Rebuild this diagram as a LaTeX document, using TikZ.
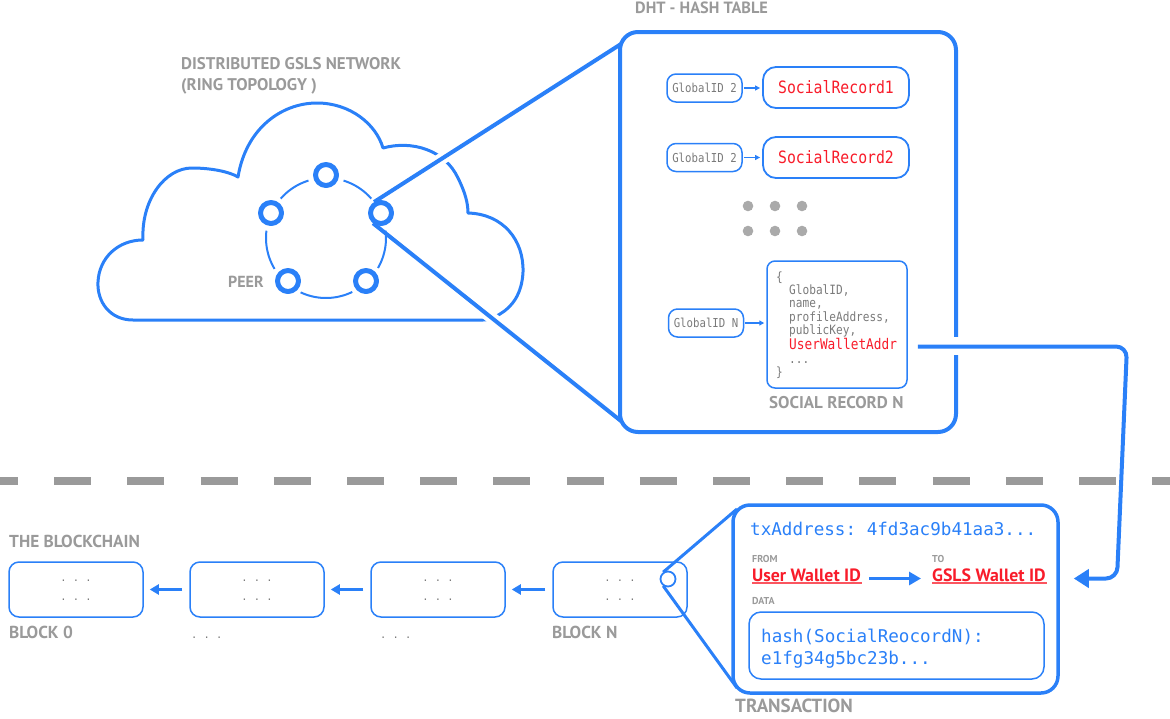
\documentclass[tikz,border=0pt]{standalone}
\usepackage{fontspec}
\setmainfont{PT Sans}
\newfontfamily\monoc[FakeStretch=0.87]{DejaVu Sans Mono}
\newfontfamily\monob{DejaVu Sans Mono}
\usetikzlibrary{arrows.meta,calc}
\definecolor{bl}{HTML}{2A80F8}
\definecolor{gr}{HTML}{9A9A9A}
\definecolor{gm}{HTML}{7A7A7A}
\definecolor{rd}{HTML}{F81C2A}
\definecolor{dg}{HTML}{AAAAAA}
\newcommand{\fsz}[1]{\fontsize{#1}{#1}\selectfont}
\frenchspacing
\begin{document}
\begin{tikzpicture}[x=1pt,y=-1pt,line join=round,
  lbl/.style={font=\bfseries\fsz{16}, text=gr, inner sep=0pt, anchor=base west},
  small/.style={lbl, font=\bfseries\fsz{10}},
  wal/.style={inner sep=0pt, anchor=base west, font=\bfseries\fsz{17.8}, text=rd},
  btxt/.style={inner sep=0pt, anchor=base west, font=\monob\fsz{17.6}, text=bl},
  srl/.style={inner sep=0pt, anchor=base west, font=\monoc\fsz{12.8}, text=gm},
  dotsl/.style={inner sep=0pt, font=\monob\fsz{10.4}, text=gm},
  gid/.style={draw=bl, line width=1.5pt, rounded corners=9pt, minimum width=75pt, minimum height=28pt, inner sep=0pt, font=\monoc\fsz{12.3}, text=gm},
  srec/.style={draw=bl, line width=1.8pt, rounded corners=13pt, minimum width=146pt, minimum height=41pt, inner sep=0pt, font=\monoc\fsz{17}, text=rd},
  blk/.style={draw=bl, line width=1.5pt, rounded corners=10pt, minimum width=134pt, minimum height=55pt, inner sep=0pt},
  peer/.style={circle, draw=bl, fill=white, line width=5pt, minimum size=21pt, inner sep=0pt},
  ring/.style={draw=bl, line width=2pt},
  conn/.style={draw=bl, line width=4pt},
  tline/.style={draw=bl, line width=3pt},
  sarrow/.style={draw=bl, line width=1.5pt, -{Triangle[length=5pt,width=5pt]}, shorten >=2pt, shorten <=1pt},
  barrow/.style={draw=bl, line width=3pt, -{Triangle[length=9pt,width=10pt]}, shorten >=6pt, shorten <=7pt},
  ul/.style={draw=rd!75, line width=1.3pt}
]
\useasboundingbox (0,0) rectangle (1170,718);

% ---------- cloud ----------
\draw[bl, line width=3pt] (483,320) -- (133,320)
  .. controls (110,320) and (97,302) .. (98,282)
  .. controls (99,258) and (118,240) .. (143,240)
  .. controls (141,200) and (165,168) .. (192,168)
  .. controls (212,168) and (230,172) .. (238,177)
  .. controls (246,128) and (282,103) .. (317,103)
  .. controls (350,103) and (376,124) .. (383,148)
  .. controls (412,140) and (445,150) .. (458,178)
  .. controls (465,192) and (468,203) .. (468,213)
  .. controls (503,214) and (524,240) .. (523,272)
  .. controls (522,294) and (512,307) .. (500,314)
  .. controls (494,318) and (490,320) .. (483,320);

\node[lbl, font=\bfseries\fsz{16.9}] (tnet) at (181,69) {DISTRIBUTED GSLS NETWORK};
\node[lbl, font=\bfseries\fsz{16.9}] (tring) at (181,90) {(RING TOPOLOGY )};
\node[lbl] (tpeer) at (228,287) {PEER};

% ring
\foreach \a/\b in {-73/-41,-7/30,64/115,149/187,221/253}
  \draw[ring] plot[domain=\a:\b, samples=24] ({326+60*cos(\x)},{238+60*sin(\x)});

\node[peer] (p1) at (326,175) {};
\node[peer] (p2) at (271,213) {};
\node[peer] (p3) at (381,213) {};
\node[peer] (p4) at (288,281) {};
\node[peer] (p5) at (366,281) {};

% ---------- hash table ----------
\node[draw=bl, line width=4pt, rounded corners=18pt, minimum width=336pt, minimum height=400pt, inner sep=0pt] (ht) at (788,232) {};
\node[lbl, font=\bfseries\fsz{16.3}] (tdht) at (635,13) {DHT - HASH TABLE};
\coordinate (htA) at (621,44);
\coordinate (htB) at (621,421);

\draw[white, line width=12pt] ($(p3.122)!0.17!(htA)$) -- ($(p3.122)!0.37!(htA)$);
\draw[white, line width=12pt] ($(p3.232)!0.40!(htB)$) -- ($(p3.232)!0.55!(htB)$);
\draw[conn] (p3.122) -- (htA);
\draw[conn] (p3.232) -- (htB);

\node[gid] (g1) at (704.5,88) {GlobalID 2};
\node[srec] (r1) at (836,87.5) {SocialRecord1};
\node[gid] (g2) at (704.5,157.5) {GlobalID 2};
\node[srec] (r2) at (836,157.5) {SocialRecord2};
\draw[sarrow] (g1.east) -- (g1.east -| r1.west);
\draw[sarrow] (g2.east) -- (g2.east -| r2.west);

\foreach \px in {748,775,802}
  \foreach \py in {206,231}
    \fill[dg] (\px,\py) circle[radius=5.3pt];

\node[gid] (gN) at (706,323) {GlobalID N};
\node[draw=bl, line width=1.5pt, rounded corners=8pt, minimum width=140pt, minimum height=127pt, inner sep=0pt] (srN) at (837,324.5) {};
\draw[sarrow] (gN.east) -- (gN.east -| srN.west);

\node[srl] (s1) at (776,281) {\{};
\node[srl] (s2) at (789,294) {GlobalID,};
\node[srl] (s3) at (789,307.5) {name,};
\node[srl] (s4) at (789,321) {profileAddress,};
\node[srl] (s5) at (789,334.5) {publicKey,};
\node[srl, font=\monoc\fsz{14.7}, text=rd] (uwa) at (789,349) {UserWalletAddr};
\node[srl] (s7) at (789,363) {...};
\node[srl] (s8) at (776,376) {\}};
\node[lbl, font=\bfseries\fsz{17}] (tsrn) at (769,408) {SOCIAL RECORD N};

% ---------- separator ----------
\draw[gr, line width=8pt, dash pattern=on 37pt off 36.2pt, dash phase=19pt] (0,481) -- (1170,481);

% ---------- blockchain ----------
\node[lbl, font=\bfseries\fsz{17.3}] (tbc) at (9,547) {THE BLOCKCHAIN};
\node[blk] (b0) at (76,589.5) {};
\node[blk] (b1) at (257,589.5) {};
\node[blk] (b2) at (438,589.5) {};
\node[blk] (bN) at (620,589.5) {};
\foreach \n in {b0,b1,b2,bN}{
  \node[dotsl, anchor=base] at ([yshift=-1pt]\n.center |- 0,580) {. . .};
  \node[dotsl, anchor=base] at ([yshift=-1pt]\n.center |- 0,599) {. . .};
}
\draw[barrow] (b1.west) -- (b0.east);
\draw[barrow] (b2.west) -- (b1.east);
\draw[barrow] (bN.west) -- (b2.east);
\node[lbl, font=\bfseries\fsz{17.3}] (tb0) at (9,638) {BLOCK 0};
\node[dotsl, anchor=base west] (tb1) at (191,638) {. . .};
\node[dotsl, anchor=base west] (tb2) at (380,638) {. . .};
\node[lbl, font=\bfseries\fsz{17.3}] (tbn) at (552,638) {BLOCK N};
\node[circle, draw=bl, line width=1.8pt, minimum size=15pt, inner sep=0pt] (bnc) at (668,579) {};

% ---------- transaction ----------
\node[draw=bl, line width=3.5pt, rounded corners=17pt, minimum width=325pt, minimum height=188pt, inner sep=0pt] (tx) at (895.5,599) {};
\coordinate (tA) at (737,509);
\coordinate (tB) at (737,688);
\draw[tline] (bnc.125) -- (tA);
\draw[tline] (bnc.235) -- (tB);

\node[btxt] (txa) at (750,535) {txAddress: 4fd3ac9b41aa3...};
\node[small] (tfrom) at (752,562) {FROM};
\node[small] (tto) at (932,562) {TO};
\node[wal] (uw) at (752,581) {User Wallet ID};
\node[wal] (gw) at (932,581) {GSLS Wallet ID};
\draw[ul] ([yshift=-2pt]uw.base west) -- ([yshift=-2pt,xshift=1pt]uw.base east);
\draw[ul] ([yshift=-2pt]gw.base west) -- ([yshift=-2pt,xshift=1pt]gw.base east);
\draw[draw=bl, line width=3pt, -{Triangle[length=12pt,width=13pt]}, shorten <=8pt, shorten >=11pt] (uw.mid east) -- (uw.mid east -| gw.west);
\node[small] (tdata) at (752,604) {DATA};
\node[draw=bl, line width=1.5pt, rounded corners=12pt, minimum width=295pt, minimum height=67pt, inner sep=0pt] (db) at (896.5,645.5) {};
\node[btxt] (h1) at (761,642) {hash(SocialReocordN):};
\node[btxt] (h2) at (761,664) {e1fg34g5bc23b...};
\node[lbl, font=\bfseries\fsz{19}] (ttx) at (735,712) {TRANSACTION};

% ---------- record -> transaction connector ----------
\coordinate (xc) at (1117,0);
\fill[white] (951,337) rectangle (960,355);
\draw[conn, rounded corners=11pt, -{Triangle[length=15pt,width=18pt]}]
  ([xshift=10pt]srN.east |- uwa.mid) -- ([xshift=10pt]srN.east |- uwa.mid -| xc)
  -- (xc |- gw.mid) -- ([xshift=14pt]tx.east |- gw.mid);
\end{tikzpicture}
\end{document}
